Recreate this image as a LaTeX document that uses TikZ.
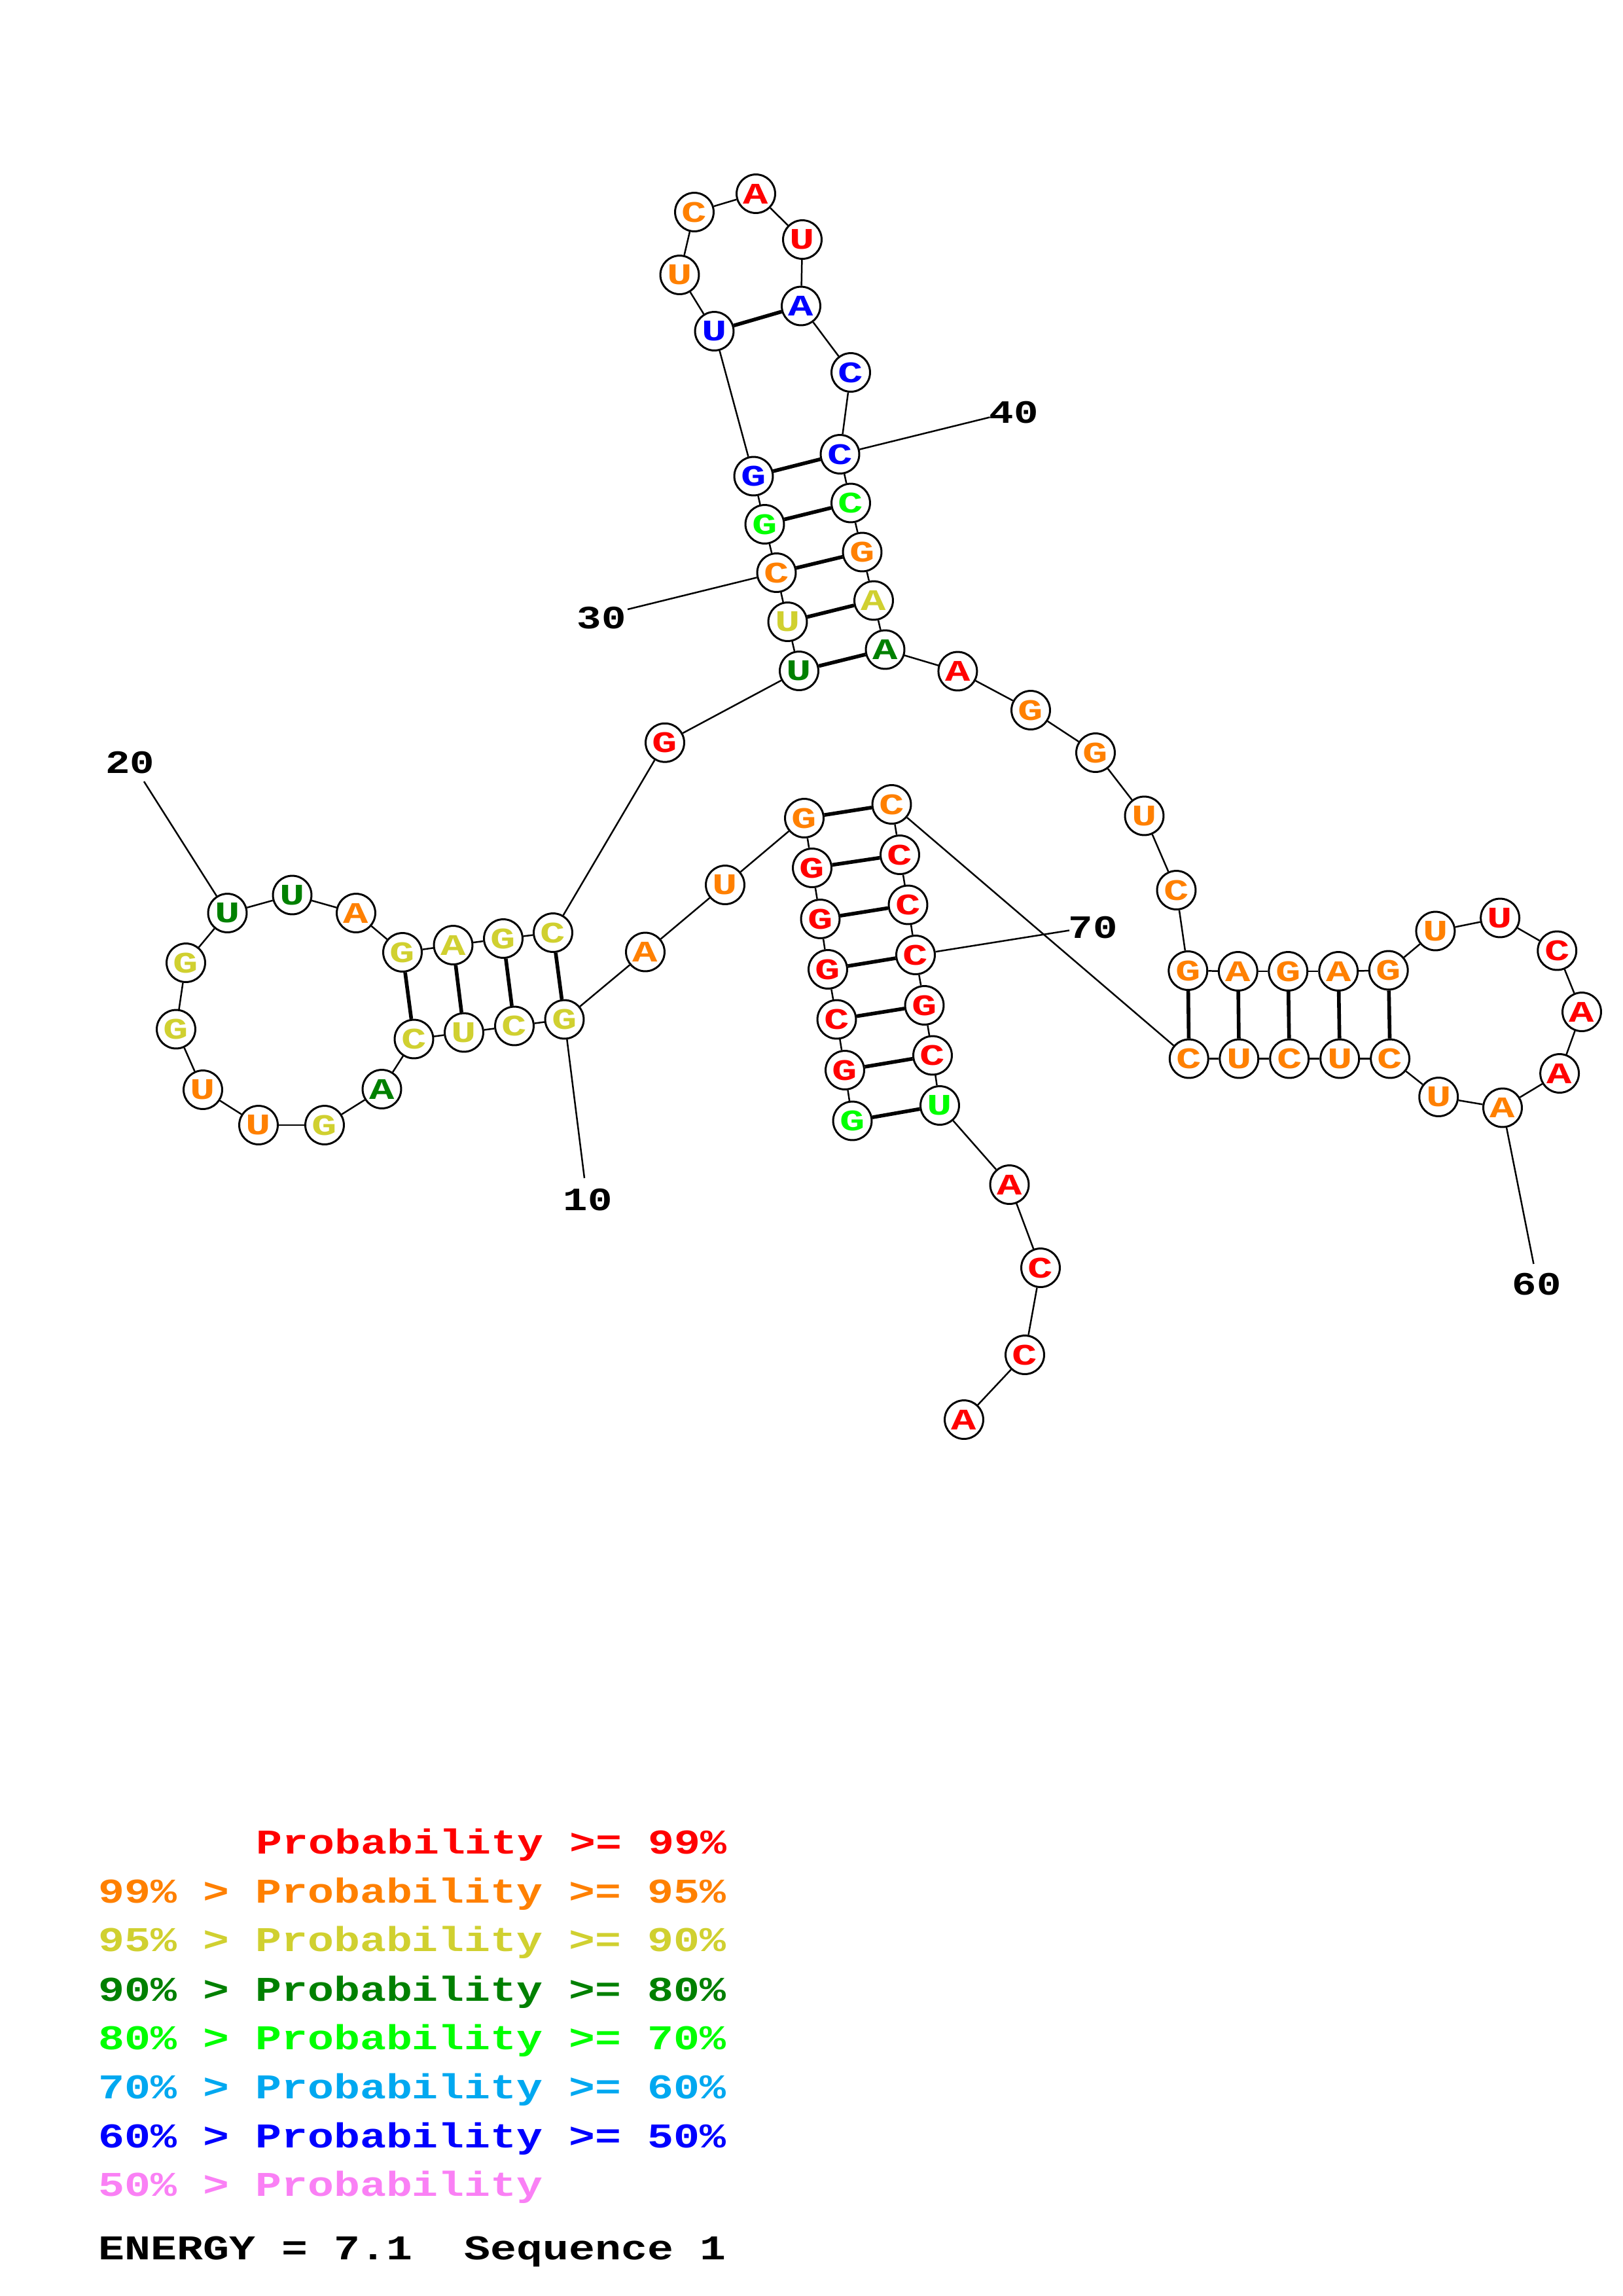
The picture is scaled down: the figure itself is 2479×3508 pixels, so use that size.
\documentclass[tikz,border=0pt]{standalone}
\usepackage{fontspec}
\newfontfamily\nucfont{Liberation Mono}[FakeStretch=1.4]
\newfontfamily\legfont{Liberation Mono}[FakeStretch=1.253]
\usetikzlibrary{backgrounds}
\definecolor{pr}{RGB}{255,0,0}
\definecolor{po}{RGB}{255,128,0}
\definecolor{py}{RGB}{208,208,48}
\definecolor{pdg}{RGB}{0,128,0}
\definecolor{pg}{RGB}{0,255,0}
\definecolor{plb}{RGB}{0,168,240}
\definecolor{pb}{RGB}{0,0,255}
\definecolor{pp}{RGB}{250,128,245}
\tikzset{
  nt/.style={circle, draw=black, line width=0.72pt, fill=white, minimum size=4.99mm, inner sep=0pt,
    font=\nucfont\bfseries\fontsize{11}{11}\selectfont},
  bb/.style={line width=0.6pt, black},
  bp/.style={line width=1.35pt, black},
  tick/.style={line width=0.6pt, black},
  numlab/.style={inner sep=0pt, text=black, font=\legfont\bfseries\fontsize{12}{12}\selectfont},
  legline/.style={anchor=base west, inner sep=0pt, font=\legfont\bfseries\fontsize{12.8}{12.8}\selectfont},
}
\begin{document}
\begin{tikzpicture}[x=0.084711mm, y=-0.084711mm]
\path[use as bounding box] (0,0) rectangle (2479,3508);
\foreach \k/\xx/\yy/\nb/\nc in {
 1/1302.5/1712.5/G/pg, 2/1291/1635/G/pr, 3/1278.5/1557.5/C/pr, 4/1265/1481/G/pr,
 5/1253.5/1404/G/pr, 6/1241/1326/G/pr, 7/1229/1250/G/po, 8/1108/1352/U/po,
 9/986/1454.5/A/po, 10/862.5/1557.5/G/py, 11/786/1567.5/C/py, 12/709/1577.5/U/py,
 13/632.5/1587.5/C/py, 14/583.5/1664/A/pdg, 15/496/1719/G/py, 16/395/1719/U/po,
 17/310/1665/U/po, 18/269/1572.5/G/py, 19/284/1471/G/py, 20/347.5/1395/U/pdg,
 21/446.5/1367.5/U/pdg, 22/544/1395/A/po, 23/615/1455/G/py, 24/692.5/1444/A/py,
 25/769/1434/G/py, 26/845/1425/C/py, 27/1016/1134.7/G/pr, 28/1221/1025/U/pdg,
 29/1203.5/950/U/py, 30/1186.5/875/C/po, 31/1168.5/801/G/pg, 32/1151.5/727.5/G/pb,
 33/1091.5/506/U/pb, 34/1038.5/420/U/po, 35/1061/324/C/po, 36/1155/296/A/pr,
 37/1226/366/U/pr, 38/1224/467.5/A/pb, 39/1300/569/C/pb, 40/1283.5/694/C/pb,
 41/1300/768.5/C/pg, 42/1317.5/843.5/G/po, 43/1335/917.5/A/py, 44/1352.5/992.5/A/pdg,
 45/1463.4/1025.5/A/pr, 46/1575/1085/G/po, 47/1674/1150/G/po, 48/1748.5/1246.5/U/po,
 49/1797.5/1360/C/po, 50/1815.3/1483/G/po, 51/1891.8/1484/A/po, 52/1968.3/1484/G/po,
 53/2045.2/1484/A/po, 54/2121.7/1482.5/G/po, 55/2193.4/1422.5/U/po, 56/2292.1/1402.5/U/pr,
 57/2379.2/1452.5/C/pr, 58/2417/1546/A/pr, 59/2383.1/1640/A/pr, 60/2296/1692.5/A/po,
 61/2198.2/1676/U/po, 62/2124.1/1617.5/C/po, 63/2047.2/1617.5/U/po, 64/1970.2/1617.5/C/po,
 65/1893.3/1617.5/U/po, 66/1816.8/1617.5/C/po, 67/1362.5/1229/C/po, 68/1375/1306/C/pr,
 69/1387.5/1382.5/C/pr, 70/1399/1459/C/pr, 71/1412.5/1536/G/pr, 72/1425/1612.5/C/pr,
 73/1436/1689/U/pg, 74/1542.5/1810/A/pr, 75/1590/1937/C/pr, 76/1566/2070/C/pr,
 77/1473/2169/A/pr}
 { \node[nt, text=\nc] (n\k) at (\xx,\yy) {\nb}; }
% position labels
\coordinate (t10) at (893,1800);
\coordinate (t20) at (220,1194);
\coordinate (t30) at (959,931);
\coordinate (t40) at (1512.5,637.5);
\coordinate (t60) at (2343.4,1931);
\coordinate (t70) at (1634,1421.5);
\node[numlab] (l10) at (898,1833) {10};
\node[numlab] (l20) at (198.5,1165) {20};
\node[numlab] (l30) at (919,944) {30};
\node[numlab] (l40) at (1549,630) {40};
\node[numlab] (l60) at (2348.2,1962.5) {60};
\node[numlab] (l70) at (1670,1417.5) {70};
\begin{scope}[on background layer]
 \fill[white] (0,0) rectangle (2479,3508);
 \foreach \k in {1,...,76} { \pgfmathtruncatemacro\kk{\k+1} \draw[bb] (n\k) -- (n\kk); }
 \foreach \p/\q in {1/73,2/72,3/71,4/70,5/69,6/68,7/67,10/26,11/25,12/24,13/23,
   28/44,29/43,30/42,31/41,32/40,33/38,50/66,51/65,52/64,53/63,54/62}
   { \draw[bp] (n\p) -- (n\q); }
 \foreach \k in {10,20,30,40,60,70} { \draw[tick] (n\k) -- (t\k); }
\end{scope}
% legend
\node[legline, text=pr] (lg1) at (390.7,2832) {Probability >= 99\%};
\node[legline, text=po] (lg2) at (150,2907) {99\% > Probability >= 95\%};
\node[legline, text=py] (lg3) at (150,2981) {95\% > Probability >= 90\%};
\node[legline, text=pdg] (lg4) at (150,3057) {90\% > Probability >= 80\%};
\node[legline, text=pg] (lg5) at (150,3131) {80\% > Probability >= 70\%};
\node[legline, text=plb] (lg6) at (150,3206.5) {70\% > Probability >= 60\%};
\node[legline, text=pb] (lg7) at (150,3281.5) {60\% > Probability >= 50\%};
\node[legline, text=pp] (lg8) at (150,3355.5) {50\% > Probability};
\node[legline, text=black] (en) at (150,3452.5) {ENERGY = 7.1~~Sequence 1};
\end{tikzpicture}
\end{document}
